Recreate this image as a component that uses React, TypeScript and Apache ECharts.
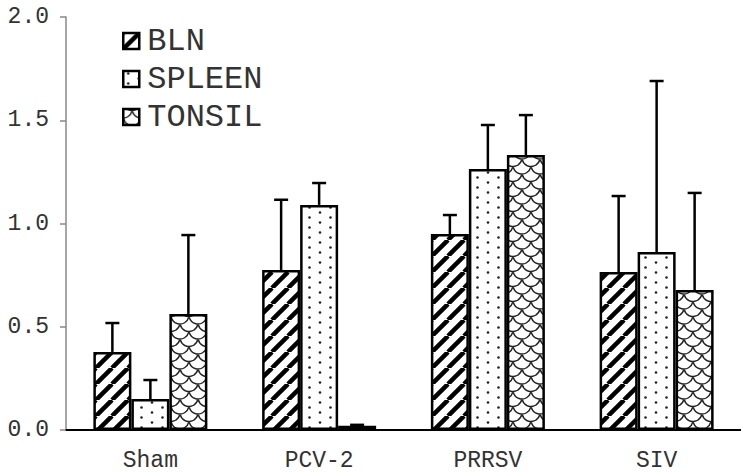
import React, { useEffect, useRef } from "react";
import * as echarts from "echarts";

const categories = ["Sham", "PCV-2", "PRRSV", "SIV"];
const seriesNames = ["BLN", "SPLEEN", "TONSIL"];
const blnValues = [0.378, 0.775, 0.949, 0.765];
const blnErrors = [0.14, 0.34, 0.092, 0.368];
const spleenValues = [0.15, 1.09, 1.264, 0.862];
const spleenErrors = [0.092, 0.106, 0.213, 0.828];
const tonsilValues = [0.562, 0.02, 1.332, 0.678];
const tonsilErrors = [0.382, 0.005, 0.193, 0.47];
const yTicks = [0, 0.5, 1.0, 1.5, 2.0];

const FONT = "'Liberation Mono', 'Courier New', monospace";

function makeCanvas(w: number, h: number, draw: (ctx: CanvasRenderingContext2D) => void) {
  const c = document.createElement("canvas");
  c.width = w;
  c.height = h;
  const ctx = c.getContext("2d")!;
  ctx.fillStyle = "#fff";
  ctx.fillRect(0, 0, w, h);
  draw(ctx);
  return c;
}

function stripePattern() {
  const s = 16;
  const c = makeCanvas(s, s, (ctx) => {
    ctx.strokeStyle = "#000";
    ctx.lineWidth = 4.5;
    for (const off of [-s, 0, s]) {
      ctx.beginPath();
      ctx.moveTo(off, s);
      ctx.lineTo(off + s, 0);
      ctx.stroke();
    }
  });
  return { image: c, repeat: "repeat", imageWidth: s, imageHeight: s } as any;
}

function dotPattern() {
  const w = 21, h = 10;
  const c = makeCanvas(w, h, (ctx) => {
    ctx.fillStyle = "#222";
    for (const [x, y] of [[5, 2.5], [15.5, 7.5]]) {
      ctx.beginPath();
      ctx.arc(x, y, 1.3, 0, Math.PI * 2);
      ctx.fill();
    }
  });
  return { image: c, repeat: "repeat", imageWidth: w, imageHeight: h } as any;
}

function scalePattern() {
  const w = 18, h = 15;
  const c = makeCanvas(w, h, (ctx) => {
    ctx.strokeStyle = "#222";
    ctx.lineWidth = 1.4;
    const r = 9;
    const centers = [[0, 0], [w, 0], [w / 2, -h / 2], [w / 2, h / 2], [0, h], [w, h]];
    for (const [cx, cy] of centers) {
      ctx.beginPath();
      ctx.arc(cx, cy, r, 0.25, Math.PI - 0.25);
      ctx.stroke();
    }
  });
  return { image: c, repeat: "repeat", imageWidth: w, imageHeight: h } as any;
}

const BAR_W = 38;

export default function App() {
  const ref = useRef<HTMLDivElement>(null);
  useEffect(() => {
    if (!ref.current) return;
    const chart = echarts.init(ref.current, undefined, { renderer: "svg" });
    const fills = [stripePattern(), dotPattern(), scalePattern()];
    const values = [blnValues, spleenValues, tonsilValues];
    const errors = [blnErrors, spleenErrors, tonsilErrors];

    const barSeries = seriesNames.map((name, i) => ({
      name,
      type: "bar",
      data: values[i],
      barWidth: BAR_W,
      barGap: "0%",
      itemStyle: { color: fills[i], borderColor: "#000", borderWidth: 2.5 },
      z: 2,
    }));

    const errSeries = seriesNames.map((name, i) => ({
      name: name + " error",
      type: "custom",
      z: 3,
      data: values[i].map((v, k) => [k, v, errors[i][k]]),
      renderItem: (params: any, api: any) => {
        const idx = api.value(0);
        const v = api.value(1);
        const e = api.value(2);
        const base = api.coord([idx, v]);
        const top = api.coord([idx, v + e]);
        const x = base[0] + (i - 1) * BAR_W;
        const capHalf = 7;
        return {
          type: "group",
          children: [
            {
              type: "line",
              shape: { x1: x, y1: base[1], x2: x, y2: top[1] },
              style: { stroke: "#000", lineWidth: 2.5 },
            },
            {
              type: "line",
              shape: { x1: x - capHalf, y1: top[1], x2: x + capHalf, y2: top[1] },
              style: { stroke: "#000", lineWidth: 2.5 },
            },
          ],
        };
      },
    }));

    chart.setOption({
      animation: false,
      grid: { left: 66, top: 17, width: 680, height: 413 },
      legend: {
        data: seriesNames,
        orient: "vertical",
        left: 122,
        top: 25,
        padding: 0,
        itemGap: 6,
        itemWidth: 16,
        itemHeight: 16,
        icon: "rect",
        itemStyle: { borderColor: "#000", borderWidth: 2.5 },
        textStyle: { fontFamily: FONT, fontSize: 32, color: "#333", padding: [0, 0, 0, 3], lineHeight: 32 },
      },
      xAxis: {
        type: "category",
        data: categories,
        axisLine: { lineStyle: { color: "#000", width: 2 } },
        axisTick: { length: 7, lineStyle: { color: "#888", width: 1.5 } },
        axisLabel: { fontFamily: FONT, fontSize: 23, color: "#333", margin: 19 },
      },
      yAxis: {
        type: "value",
        min: yTicks[0],
        max: yTicks[yTicks.length - 1],
        interval: 0.5,
        splitLine: { show: false },
        axisLine: { show: true, lineStyle: { color: "#888", width: 1.5 } },
        axisTick: { show: true, length: 6, lineStyle: { color: "#888", width: 1.5 } },
        axisLabel: {
          fontFamily: FONT,
          fontSize: 23,
          color: "#333",
          margin: 17,
          formatter: (v: number) => v.toFixed(1),
        },
      },
      series: [...barSeries, ...errSeries],
    });
    return () => chart.dispose();
  }, []);
  return (
    <div
      ref={ref}
      style={{ position: "fixed", left: 0, top: 0, width: 741, height: 474, background: "#fff" }}
    />
  );
}
